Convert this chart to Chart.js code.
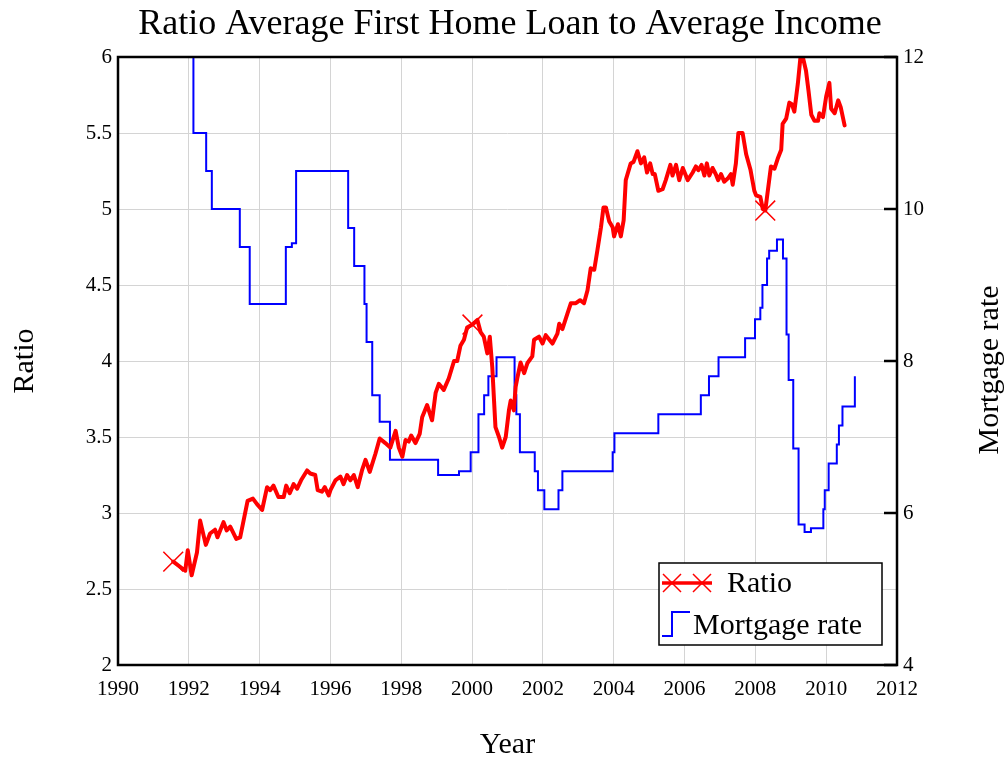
<!DOCTYPE html>
<html lang="en">
<head>
<meta charset="UTF-8" />
<title>Ratio Average First Home Loan to Average Income</title>
<style>
  body { margin: 0; background: #fff; }
  canvas { display: block; }
</style>
</head>
<body>
<canvas id="chart" width="1006" height="763"></canvas>

<script src="https://cdn.jsdelivr.net/npm/chart.js"></script>
<script>
// ratio of average first home loan to average income (left axis)
const ratioYears = [
  1991.56, 1991.90, 1991.97, 1992.08, 1992.23, 1992.32, 1992.48, 1992.60, 1992.74, 1992.81, 1992.98,
  1993.07, 1993.17, 1993.34, 1993.45, 1993.66, 1993.81, 1993.92,
  1994.07, 1994.21, 1994.30, 1994.39, 1994.53, 1994.68, 1994.75, 1994.85, 1994.96,
  1995.06, 1995.17, 1995.34, 1995.43, 1995.57, 1995.64, 1995.76, 1995.84, 1995.95,
  1996.00, 1996.14, 1996.28, 1996.37, 1996.47, 1996.56, 1996.66, 1996.77, 1996.89, 1996.99,
  1997.11, 1997.27, 1997.39, 1997.55, 1997.69, 1997.84, 1997.93,
  1998.03, 1998.12, 1998.21, 1998.28, 1998.40, 1998.52, 1998.59, 1998.73, 1998.87, 1998.97,
  1999.06, 1999.20, 1999.34, 1999.49, 1999.58, 1999.67, 1999.77, 1999.86,
  2000.01, 2000.15, 2000.24, 2000.33, 2000.43, 2000.50, 2000.57, 2000.62, 2000.66, 2000.76, 2000.85, 2000.95,
  2001.04, 2001.09, 2001.18, 2001.23, 2001.28, 2001.37, 2001.47, 2001.56, 2001.70, 2001.75, 2001.89, 2001.99,
  2002.08, 2002.27, 2002.41, 2002.46, 2002.55, 2002.69, 2002.79, 2002.93,
  2003.05, 2003.16, 2003.26, 2003.35, 2003.45, 2003.54, 2003.64, 2003.71, 2003.78, 2003.87, 2003.97,
  2004.01, 2004.12, 2004.20, 2004.28, 2004.34, 2004.48, 2004.56, 2004.67, 2004.77, 2004.86, 2004.94,
  2005.03, 2005.10, 2005.16, 2005.26, 2005.38, 2005.47, 2005.60, 2005.66, 2005.76, 2005.85, 2005.95,
  2006.09, 2006.23, 2006.32, 2006.39, 2006.48, 2006.56, 2006.63, 2006.70, 2006.79, 2006.88, 2006.95,
  2007.03, 2007.12, 2007.22, 2007.31, 2007.36, 2007.45, 2007.52, 2007.64, 2007.74, 2007.86, 2007.97,
  2008.02, 2008.14, 2008.21, 2008.28, 2008.44, 2008.54, 2008.63, 2008.73, 2008.77, 2008.87, 2008.96,
  2009.03, 2009.10, 2009.20, 2009.27, 2009.34, 2009.43, 2009.50, 2009.58, 2009.67, 2009.77, 2009.81, 2009.91,
  2010.00, 2010.09, 2010.14, 2010.24, 2010.34, 2010.41, 2010.52
];
const ratioValues = [
  2.68, 2.62, 2.755, 2.59, 2.74, 2.95, 2.79, 2.865, 2.89, 2.84, 2.94,
  2.885, 2.91, 2.83, 2.84, 3.08, 3.095, 3.06,
  3.02, 3.17, 3.15, 3.18, 3.105, 3.105, 3.18, 3.13, 3.19,
  3.16, 3.215, 3.28, 3.26, 3.25, 3.15, 3.14, 3.17, 3.115,
  3.15, 3.215, 3.24, 3.19, 3.25, 3.215, 3.25, 3.17, 3.28, 3.35,
  3.27, 3.39, 3.49, 3.46, 3.43, 3.54, 3.43,
  3.37, 3.48, 3.47, 3.51, 3.46, 3.52, 3.63, 3.71, 3.61, 3.79,
  3.85, 3.81, 3.885, 4.0, 4.0, 4.10, 4.14, 4.22,
  4.24, 4.27, 4.19, 4.16, 4.05, 4.16, 3.96, 3.74, 3.565, 3.50, 3.43, 3.50,
  3.675, 3.74, 3.675, 3.83, 3.89, 3.99, 3.92, 3.985, 4.03, 4.14, 4.16, 4.115,
  4.17, 4.115, 4.18, 4.245, 4.21, 4.31, 4.38, 4.38,
  4.40, 4.38, 4.465, 4.61, 4.60, 4.73, 4.88, 5.01, 5.01, 4.92, 4.88,
  4.82, 4.90, 4.82, 4.925, 5.19, 5.30, 5.31, 5.38, 5.30, 5.34, 5.24,
  5.30, 5.23, 5.23, 5.12, 5.13, 5.19, 5.29, 5.22, 5.29, 5.19, 5.27,
  5.19, 5.24, 5.28, 5.255, 5.29, 5.22, 5.30, 5.22, 5.27, 5.23, 5.19,
  5.23, 5.18, 5.20, 5.23, 5.16, 5.30, 5.50, 5.50, 5.36, 5.26, 5.12,
  5.09, 5.08, 5.00, 4.99, 5.28, 5.265, 5.33, 5.39, 5.56, 5.595, 5.70,
  5.69, 5.64, 5.825, 5.99, 6.0, 5.91, 5.78, 5.62, 5.58, 5.58, 5.63, 5.605,
  5.74, 5.83, 5.66, 5.63, 5.715, 5.67, 5.55
];
// points that carry the X marker
const markerYears = [1991.56, 2000.01, 2008.28];

// mortgage rate (right axis), each value holds until the next date
const rateYears = [
  1992.00, 1992.13, 1992.49, 1992.65, 1993.44, 1993.72, 1994.74, 1994.91, 1995.03,
  1996.50, 1996.67, 1996.96, 1997.02, 1997.18, 1997.39, 1997.68, 1999.04, 1999.63, 1999.96,
  2000.18, 2000.34, 2000.46, 2000.69, 2001.20, 2001.25, 2001.35, 2001.77, 2001.86,
  2002.04, 2002.44, 2002.55, 2003.97, 2004.02, 2005.26, 2006.46, 2006.69, 2006.96,
  2007.71, 2007.99, 2008.14, 2008.20, 2008.33, 2008.39, 2008.61, 2008.78, 2008.88, 2008.94,
  2009.07, 2009.22, 2009.39, 2009.57, 2009.92, 2009.96, 2010.07, 2010.30, 2010.36, 2010.46, 2010.81
];
const rateValues = [
  12.75, 11.0, 10.5, 10.0, 9.5, 8.75, 9.5, 9.55, 10.5,
  9.75, 9.25, 8.75, 8.25, 7.55, 7.2, 6.7, 6.5, 6.55, 6.8,
  7.3, 7.55, 7.8, 8.05, 7.55, 7.3, 6.8, 6.55, 6.3,
  6.05, 6.3, 6.55, 6.8, 7.05, 7.3, 7.55, 7.8, 8.05,
  8.3, 8.55, 8.7, 9.0, 9.35, 9.45, 9.6, 9.35, 8.35, 7.75,
  6.85, 5.85, 5.75, 5.8, 6.05, 6.3, 6.65, 6.9, 7.15, 7.4, 7.8
];

const seriesNames = ['Ratio', 'Mortgage rate'];
const chartTitle = 'Ratio Average First Home Loan to Average Income';
const xRange = [1990, 2012, 2];
const ratioRange = [2, 6, 0.5];
const rateRange = [4, 12, 2];

const SERIF = "'Liberation Serif', 'DejaVu Serif', serif";
const RED = '#ff0000';
const BLUE = '#0000ff';

function drawX(c, x, y, r) {
  c.beginPath();
  c.moveTo(x - r, y - r); c.lineTo(x + r, y + r);
  c.moveTo(x - r, y + r); c.lineTo(x + r, y - r);
  c.stroke();
}

// frame, inner ticks on the right axis, title, right axis title and legend
const decor = {
  id: 'decor',
  afterDatasetsDraw(chart) {
    const c = chart.ctx, a = chart.chartArea;
    c.save();
    c.strokeStyle = '#000';
    c.lineWidth = 2.5;
    c.strokeRect(a.left, a.top, a.right - a.left, a.bottom - a.top);
    const y2 = chart.scales.y2;
    y2.ticks.forEach(t => {
      const y = y2.getPixelForValue(t.value);
      c.beginPath();
      c.moveTo(a.right - 13, y);
      c.lineTo(a.right, y);
      c.stroke();
    });
    c.restore();
  },
  afterDraw(chart) {
    const c = chart.ctx, a = chart.chartArea;
    c.save();
    c.fillStyle = '#000';
    c.textBaseline = 'middle';
    c.textAlign = 'center';
    c.font = '36px ' + SERIF;
    c.fillText(chartTitle, 510, 25);

    c.font = '30px ' + SERIF;
    c.translate(990, 370);
    c.rotate(-Math.PI / 2);
    c.fillText('Mortgage rate', 0, 0);
    c.restore();

    // legend
    c.save();
    const bx = a.right - 238, by = a.bottom - 102;
    c.fillStyle = '#fff';
    c.fillRect(bx, by, 223, 82);
    c.strokeStyle = '#000';
    c.lineWidth = 1.5;
    c.strokeRect(bx, by, 223, 82);

    c.strokeStyle = RED;
    c.lineWidth = 3.5;
    c.beginPath();
    c.moveTo(bx + 3, by + 20);
    c.lineTo(bx + 53, by + 20);
    c.stroke();
    c.lineWidth = 1.5;
    drawX(c, bx + 13, by + 20, 9);
    drawX(c, bx + 43, by + 20, 9);

    c.strokeStyle = BLUE;
    c.lineWidth = 2;
    c.beginPath();
    c.moveTo(bx + 3, by + 73);
    c.lineTo(bx + 13, by + 73);
    c.lineTo(bx + 13, by + 49);
    c.lineTo(bx + 31, by + 49);
    c.stroke();

    c.fillStyle = '#000';
    c.font = '30px ' + SERIF;
    c.textBaseline = 'middle';
    c.textAlign = 'left';
    c.fillText(seriesNames[0], bx + 68, by + 21);
    c.fillText(seriesNames[1], bx + 34, by + 63);
    c.restore();
  }
};

const ratioData = ratioYears.map((x, i) => ({ x: x, y: ratioValues[i] }));
const rateData = rateYears.map((x, i) => ({ x: x, y: rateValues[i] }));

const config = {
  type: 'line',
  data: {
    datasets: [
      {
        label: seriesNames[0],
        data: ratioData,
        yAxisID: 'y',
        borderColor: RED,
        backgroundColor: RED,
        borderWidth: 4,
        borderJoinStyle: 'round',
        borderCapStyle: 'round',
        tension: 0,
        pointStyle: 'crossRot',
        pointRadius: ctx => markerYears.includes(ratioYears[ctx.dataIndex]) ? 14 : 0,
        pointBorderWidth: 1.5,
        pointBorderColor: RED
      },
      {
        label: seriesNames[1],
        data: rateData,
        yAxisID: 'y2',
        borderColor: BLUE,
        borderWidth: 2,
        stepped: true,
        pointRadius: 0
      }
    ]
  },
  options: {
    responsive: false,
    animation: false,
    events: [],
    layout: { padding: { top: 57 } },
    plugins: {
      legend: { display: false },
      title: { display: false },
      tooltip: { enabled: false }
    },
    scales: {
      x: {
        type: 'linear',
        min: xRange[0], max: xRange[1],
        afterFit: s => { s.height = 98; },
        grid: { color: '#d4d4d4', lineWidth: 1, drawTicks: false },
        border: { display: false },
        ticks: {
          stepSize: xRange[2],
          padding: 12,
          color: '#000',
          font: { family: SERIF, size: 21 },
          callback: v => String(v)
        },
        title: {
          display: true,
          text: 'Year',
          color: '#000',
          font: { family: SERIF, size: 30 },
          padding: { top: 0, bottom: 0 }
        }
      },
      y: {
        position: 'left',
        min: ratioRange[0], max: ratioRange[1],
        afterFit: s => { s.width = 118; },
        grid: { color: '#d4d4d4', lineWidth: 1, drawTicks: false },
        border: { display: false },
        ticks: {
          stepSize: ratioRange[2],
          padding: 6,
          color: '#000',
          font: { family: SERIF, size: 21 },
          callback: v => String(v)
        },
        title: {
          display: true,
          text: 'Ratio',
          color: '#000',
          font: { family: SERIF, size: 30 },
          padding: { top: 7, bottom: 0 }
        }
      },
      y2: {
        position: 'right',
        min: rateRange[0], max: rateRange[1],
        afterFit: s => { s.width = 109; },
        grid: { drawOnChartArea: false, drawTicks: false },
        border: { display: false },
        ticks: {
          stepSize: rateRange[2],
          padding: 6,
          color: '#000',
          font: { family: SERIF, size: 21 },
          callback: v => String(v)
        }
      }
    }
  },
  plugins: [decor]
};

new Chart(document.getElementById('chart'), config);
</script>
</body>
</html>
